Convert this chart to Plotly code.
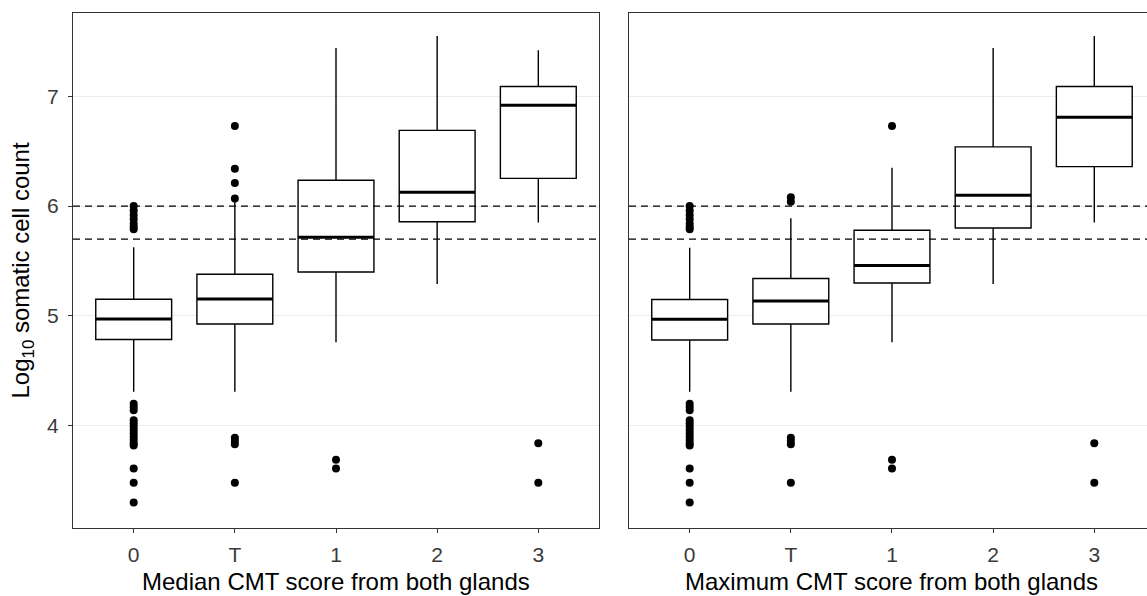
import plotly.graph_objects as go

# CMT score categories shown along both x axes
categories = ["0", "T", "1", "2", "3"]

# Log10 somatic cell count summaries by median CMT score (left panel)
median_q1 = [4.785, 4.926, 5.40, 5.858, 6.253]
median_med = [4.972, 5.154, 5.716, 6.127, 6.918]
median_q3 = [5.152, 5.38, 6.235, 6.69, 7.09]
median_lo = [4.31, 4.31, 4.76, 5.29, 5.85]
median_hi = [5.626, 6.05, 7.44, 7.55, 7.42]
median_outliers = [
    [6.00, 5.96, 5.92, 5.88, 5.84, 5.81, 5.79,
     4.20, 4.17, 4.14, 4.05, 4.02, 3.99, 3.96, 3.93, 3.90, 3.87, 3.84, 3.82,
     3.61, 3.48, 3.30],
    [6.73, 6.34, 6.21, 6.07, 3.89, 3.86, 3.83, 3.48],
    [3.69, 3.61],
    [],
    [3.84, 3.48],
]

# Log10 somatic cell count summaries by maximum CMT score (right panel)
max_q1 = [4.78, 4.926, 5.30, 5.80, 6.36]
max_med = [4.97, 5.136, 5.46, 6.10, 6.81]
max_q3 = [5.15, 5.34, 5.78, 6.54, 7.09]
max_lo = [4.31, 4.31, 4.76, 5.29, 5.85]
max_hi = [5.62, 5.89, 6.35, 7.44, 7.55]
max_outliers = [
    [6.00, 5.96, 5.92, 5.88, 5.84, 5.81, 5.79,
     4.20, 4.17, 4.14, 4.05, 4.02, 3.99, 3.96, 3.93, 3.90, 3.87, 3.84, 3.82,
     3.61, 3.48, 3.30],
    [6.08, 6.04, 3.89, 3.86, 3.83, 3.48],
    [6.73, 3.69, 3.61],
    [],
    [3.84, 3.48],
]

# Reference thresholds: 500,000 and 1,000,000 cells/mL on the log10 scale
thresholds = [5.699, 6.0]

y_ticks = [4, 5, 6, 7]
x_titles = ["Median CMT score from both glands", "Maximum CMT score from both glands"]
y_title = "Log<sub>10</sub> somatic cell count"

BOX_W = 0.75
FRAME = "#333333"
FONT = "Liberation Sans, Arial, sans-serif"
positions = list(range(len(categories)))

fig = go.Figure()

panels = [
    ("x", "y", median_q1, median_med, median_q3, median_lo, median_hi, median_outliers),
    ("x2", "y2", max_q1, max_med, max_q3, max_lo, max_hi, max_outliers),
]

for xa, ya, q1, med, q3, lo, hi, outs in panels:
    fig.add_trace(go.Box(
        x=positions, q1=q1, median=med, q3=q3, lowerfence=lo, upperfence=hi,
        width=BOX_W, whiskerwidth=0, fillcolor="white",
        line=dict(color="black", width=1.4),
        boxpoints=False, hoverinfo="skip", showlegend=False,
        xaxis=xa, yaxis=ya,
    ))
    # Thicker median bars drawn over each box
    mx, my = [], []
    for p, m in zip(positions, med):
        mx += [p - BOX_W / 2, p + BOX_W / 2, None]
        my += [m, m, None]
    fig.add_trace(go.Scatter(
        x=mx, y=my, mode="lines", line=dict(color="black", width=3),
        hoverinfo="skip", showlegend=False, xaxis=xa, yaxis=ya,
    ))
    # Outlying observations
    ox, oy = [], []
    for p, vals in zip(positions, outs):
        ox += [p] * len(vals)
        oy += vals
    fig.add_trace(go.Scatter(
        x=ox, y=oy, mode="markers", marker=dict(color="black", size=8),
        hoverinfo="skip", showlegend=False, xaxis=xa, yaxis=ya,
    ))
    # Dashed threshold lines across the panel
    for t in thresholds:
        fig.add_trace(go.Scatter(
            x=[-0.6, 4.6], y=[t, t], mode="lines",
            line=dict(color="black", width=1.4, dash="7px,5px"),
            hoverinfo="skip", showlegend=False, xaxis=xa, yaxis=ya,
        ))

W, H = 1147, 596
L, T, B = 73, 13, 68
plot_w = W - L
plot_h = H - T - B
y_range = [3.068, 7.759]
px_per_cat = 101.15

tickfont = dict(family=FONT, size=21, color="#3a3a3a")
titlefont = dict(family=FONT, size=24, color="black")

common_x = dict(
    tickvals=positions, ticktext=categories, tickfont=tickfont,
    ticks="outside", ticklen=4, tickcolor=FRAME, tickwidth=1,
    ticklabelstandoff=4,
    showgrid=False, zeroline=False, showline=True, linecolor=FRAME, linewidth=1.2,
    mirror=True,
)

x1_dom = [0, (599 - L) / plot_w]
x2_dom = [(629 - L) / plot_w, 1.0]
x2_range = [-0.6, -0.6 + (W - 629) / px_per_cat]

fig.update_layout(
    width=W, height=H,
    margin=dict(l=L, r=0, t=T, b=B, autoexpand=False),
    paper_bgcolor="white", plot_bgcolor="white",
    xaxis=dict(common_x, domain=x1_dom, range=[-0.6, 4.6], anchor="y"),
    xaxis2=dict(common_x, domain=x2_dom, range=x2_range, anchor="y2"),
    yaxis=dict(
        range=y_range, tickvals=y_ticks, tickfont=tickfont,
        ticks="outside", ticklen=4, tickcolor=FRAME, tickwidth=1,
        ticklabelstandoff=5,
        showgrid=True, gridcolor="#ebebeb", gridwidth=1, zeroline=False,
        showline=True, linecolor=FRAME, linewidth=1.2, mirror=True, anchor="x",
    ),
    yaxis2=dict(
        anchor="x2", range=y_range, tickvals=y_ticks, showticklabels=False,
        ticks="", showgrid=True, gridcolor="#ebebeb", gridwidth=1, zeroline=False,
        showline=True, linecolor=FRAME, linewidth=1.2, mirror=False,
    ),
)

# Axis titles: each x title centred under its panel (right panel runs past the edge)
left_center = (x1_dom[0] + x1_dom[1]) / 2
right_full_end = x2_dom[0] + (4.6 + 0.6) * px_per_cat / plot_w
right_center = (x2_dom[0] + right_full_end) / 2
title_y = -(581 - (H - B)) / plot_h
for cx, txt in zip([left_center, right_center], x_titles):
    fig.add_annotation(
        text=txt, x=cx, y=title_y, xref="paper", yref="paper",
        xanchor="center", yanchor="middle", showarrow=False, font=titlefont,
    )
fig.add_annotation(
    text=y_title, x=-(L - 22) / plot_w, y=0.5, xref="paper", yref="paper",
    xanchor="center", yanchor="middle", textangle=-90, showarrow=False, font=titlefont,
)

fig.write_html("out.html")
